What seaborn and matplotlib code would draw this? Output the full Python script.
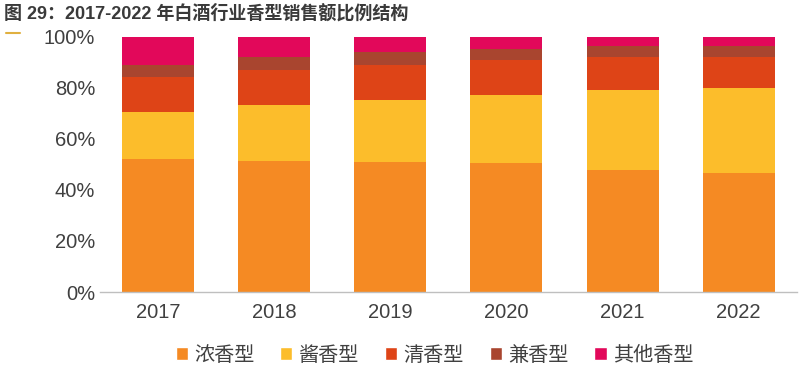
import numpy as np
import pandas as pd
import matplotlib
matplotlib.use("Agg")
import matplotlib.pyplot as plt
import seaborn as sns
from matplotlib.patches import Patch

years = ["2017", "2018", "2019", "2020", "2021", "2022"]
labels = ["浓香型", "酱香型", "清香型", "兼香型", "其他香型"]
# shares (%)
nong = [52.2, 51.4, 51.0, 50.6, 47.8, 46.7]
jiang = [18.4, 21.9, 24.3, 26.7, 31.4, 33.3]
qing = [13.7, 13.8, 13.7, 13.7, 13.0, 12.2]
jian = [4.7, 5.1, 5.0, 4.3, 4.3, 4.1]
qita = [11.0, 7.8, 6.0, 4.7, 3.5, 3.7]
colors = ["#F58A23", "#FCBD2B", "#DE4417", "#A9452F", "#E2085A"]

sns.set_theme(style="white")
plt.rcParams['font.family'] = ['Liberation Sans', 'Noto Sans CJK SC', 'DejaVu Sans']

fig = plt.figure(figsize=(8, 3.72), dpi=100)
ax = fig.add_axes([0.125, 0.215, 0.871, 0.686])

df = pd.DataFrame({"year": years, "浓香型": nong, "酱香型": jiang, "清香型": qing,
                   "兼香型": jian, "其他香型": qita})
# draw cumulative bars from tallest to shortest
cums = np.cumsum(df[labels].values, axis=1)
for i in range(len(labels) - 1, -1, -1):
    sns.barplot(x=df["year"], y=cums[:, i], color=colors[i], width=0.62, ax=ax,
                saturation=1, linewidth=0)

ax.set_ylim(0, 100)
ax.set_xlim(-0.5, 5.5)
ax.set_yticks([0, 20, 40, 60, 80, 100])
ax.set_yticklabels([f"{v}%" for v in [0, 20, 40, 60, 80, 100]])
ax.tick_params(axis="both", labelsize=14.5, labelcolor="#404040", length=0)
ax.tick_params(axis="x", pad=8)
ax.set_xlabel("")
ax.set_ylabel("")
for s in ["top", "right", "left"]:
    ax.spines[s].set_visible(False)
ax.spines["bottom"].set_color("#BFBFBF")
ax.spines["bottom"].set_linewidth(1)

handles = [Patch(facecolor=c, label=l) for l, c in zip(labels, colors)]
fig.legend(handles=handles, loc="center", bbox_to_anchor=(0.543, 0.045), ncol=5,
           frameon=False, fontsize=14.5, handlelength=0.6, handleheight=0.6,
           handletextpad=0.3, columnspacing=1.3, labelcolor="#404040")

fig.text(0.005, 0.965, "图 29：2017-2022 年白酒行业香型销售额比例结构", fontsize=13,
         fontweight="bold", color="#3A3A3A", va="center")
fig.add_artist(plt.Line2D([0.008, 0.025], [0.91, 0.91], color="#E0B040", lw=1.5))

fig.savefig("out.png", dpi=100)
